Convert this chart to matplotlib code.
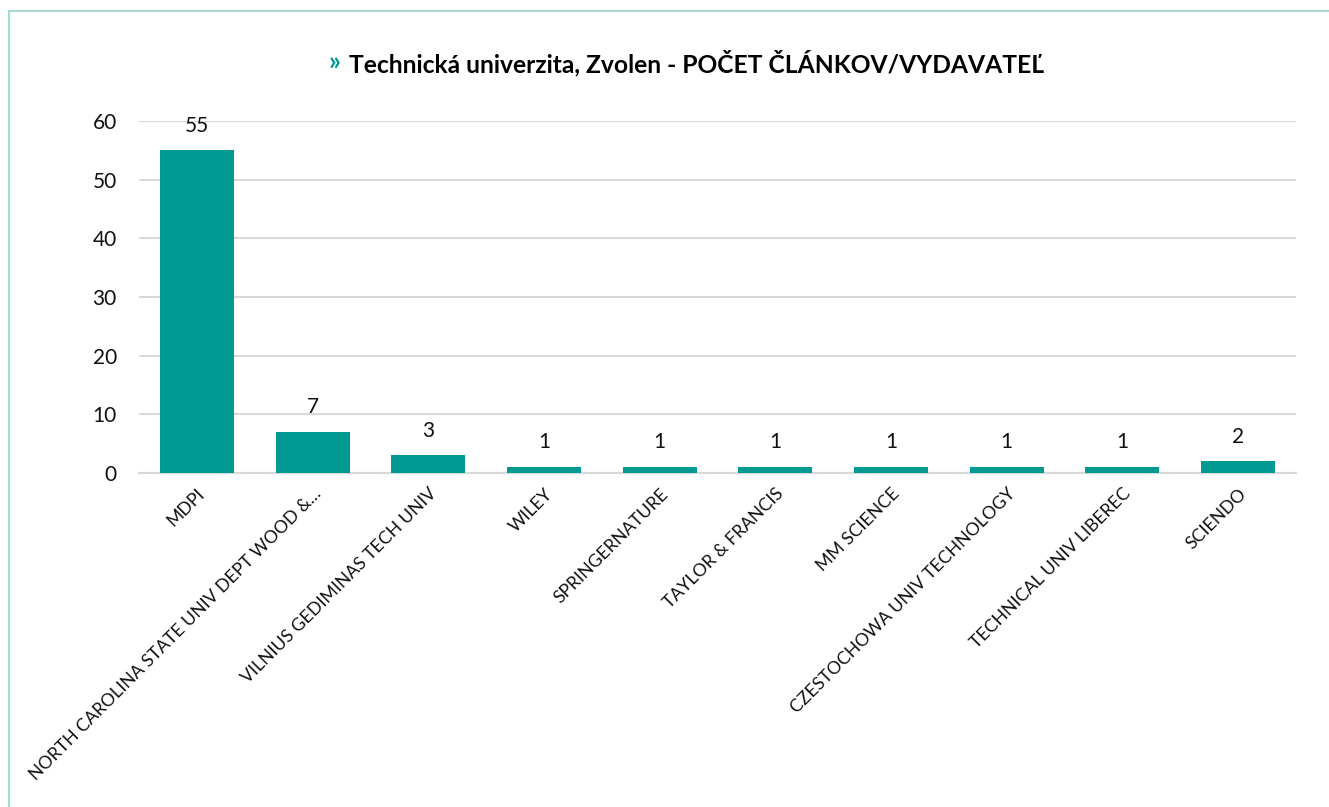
import matplotlib.pyplot as plt
from matplotlib.lines import Line2D

publishers = ["MDPI", "NORTH CAROLINA STATE UNIV DEPT WOOD &…", "VILNIUS GEDIMINAS TECH UNIV",
              "WILEY", "SPRINGERNATURE", "TAYLOR & FRANCIS", "MM SCIENCE",
              "CZESTOCHOWA UNIV TECHNOLOGY", "TECHNICAL UNIV LIBEREC", "SCIENDO"]
counts = [55, 7, 3, 1, 1, 1, 1, 1, 1, 2]
yticks = [0, 10, 20, 30, 40, 50, 60]

teal = "#009a93"
plt.rcParams['font.family'] = ["Lato", "DejaVu Sans"]

fig = plt.figure(figsize=(13.29, 8.07), dpi=100)
ax = fig.add_axes([139/1329, 1 - 473/807, (1296-139)/1329, (473-121)/807])

x = range(len(publishers))
ax.bar(x, counts, width=0.64, color=teal, zorder=3)
for xi, c in zip(x, counts):
    ax.text(xi, c + 4.2, str(c), ha='center', va='center', fontsize=15, color='#111111')

ax.set_xlim(-0.5, len(publishers) - 0.5)
ax.set_ylim(0, 60)
ax.set_yticks(yticks)
ax.set_xticks(list(x))
ax.set_xticklabels(publishers, rotation=45, ha='right', rotation_mode='anchor',
                   fontsize=12.7, color='#111111')
ax.tick_params(axis='y', length=0, pad=16, labelsize=15, labelcolor='#111111')
ax.tick_params(axis='x', length=0, pad=9)
ax.grid(axis='y', color='#d9d9d9', linewidth=1.5, zorder=0)
for s in ['top', 'right', 'left']:
    ax.spines[s].set_visible(False)
ax.spines['bottom'].set_color('#d9d9d9')
ax.spines['bottom'].set_linewidth(1.5)

# title: teal marker + bold text
fig.text(329/1329, 1 - 63/807, "»", color=teal, fontsize=19, fontweight='bold', va='center')
fig.text(349/1329, 1 - 63/807, "Technická univerzita, Zvolen - POČET ČLÁNKOV/VYDAVATEĽ",
         color='black', fontsize=17.7, fontweight='bold', va='center')

# outer frame
fig.add_artist(Line2D([9/1329, 1], [1 - 11/807, 1 - 11/807], color='#a8d8d4', linewidth=1.5))
fig.add_artist(Line2D([9/1329, 9/1329], [0, 1 - 11/807], color='#a8d8d4', linewidth=1.5))

fig.savefig("out.png", dpi=100)
